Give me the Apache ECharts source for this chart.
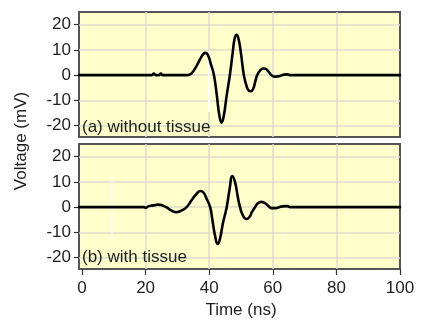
<!DOCTYPE html>
<html>
<head>
<meta charset="utf-8">
<script src="https://cdn.jsdelivr.net/npm/echarts@6/dist/echarts.min.js"></script>
<style>
html,body{margin:0;padding:0;background:#fff;}
#c{width:422px;height:327px;}
</style>
</head>
<body>
<div id="c"></div>
<script>
// Time (ns) and voltage (mV) for panel (a) without tissue
var timeA = [-0.9, 20, 22, 22.6, 23.2, 24.2, 24.8, 25.4, 33, 34, 35.5, 37, 38.2, 38.9, 39.6, 40.5, 41.5, 42.4, 43.2, 43.9, 44.6, 45.5, 46.5, 47.4, 48.0, 48.6, 49.2, 50.0, 50.9, 51.8, 52.5, 53.1, 53.8, 54.5, 55.1, 56, 57, 57.7, 58.6, 59.6, 60.5, 61.5, 62.5, 63.5, 64.5, 65.5, 100];
var voltA = [0, 0, 0, 0.6, 0, 0, 0.6, 0, 0, 0.3, 2.5, 6, 8.4, 8.8, 8, 4.5, 0, -8, -16, -18.8, -16, -8, 0, 9, 14.5, 16, 14.5, 8.5, 0, -4.5, -6.2, -6.4, -5.5, -2.5, 0, 1.8, 2.6, 2.5, 1.5, 0, -0.6, -0.5, -0.2, 0.2, 0.3, 0, 0];
// Time (ns) and voltage (mV) for panel (b) with tissue
var timeB = [-0.9, 19.5, 20, 21, 22, 23, 24, 25, 26.5, 28, 29.5, 31, 32.9, 34.5, 36, 37.2, 38.2, 39.3, 40.3, 41, 41.8, 42.7, 43.4, 44.3, 45.5, 46.4, 47.3, 48.2, 49.0, 49.7, 50.6, 51.7, 52.6, 53.5, 54.4, 55.4, 56.4, 57.5, 58.6, 59.6, 61, 62, 63, 64.5, 65.5, 100];
var voltB = [0, 0, -0.3, 0.4, 0.6, 0.8, 1.0, 0.8, 0, -1.3, -2.0, -1.5, 0, 2.8, 5.2, 6.4, 5.8, 3, 0, -5, -11, -14.6, -12.5, -6.5, 0, 7, 12.3, 9.5, 4, 0, -3.3, -4.7, -4, -1.8, 0, 1.6, 2.1, 1.6, 0.5, -0.4, -0.4, 0, 0.3, 0.4, 0, 0];
// Axis ticks
var xTicks = [0, 20, 40, 60, 80, 100];
var xGrid = [20, 40, 60, 80];
var yTicks = [-20, -10, 0, 10, 20];

function pairs(t, v) { return t.map(function (x, i) { return [x, v[i]]; }); }

var FONT = '"Liberation Sans", Arial, sans-serif';
var TXT = '#1e1e1e';

function gridSeries(idx, artifact) {
  var data = [];
  xGrid.forEach(function (x) { data.push({ xAxis: x }); });
  yTicks.forEach(function (y) { data.push({ yAxis: y }); });
  var ml = {
    silent: true, symbol: 'none', label: { show: false },
    lineStyle: { color: '#dcdcc8', width: 1.5, type: 'solid' },
    emphasis: { disabled: true },
    animation: false,
    data: data
  };
  if (artifact) {
    ml.data.push([{ coord: artifact[0], lineStyle: { color: artifact[2], width: 2 } }, { coord: artifact[1] }]);
  }
  return {
    type: 'line', xAxisIndex: idx, yAxisIndex: idx, data: [], z: 1,
    markLine: ml
  };
}

function waveSeries(idx, d) {
  return {
    type: 'line', xAxisIndex: idx, yAxisIndex: idx, data: d, z: 5,
    showSymbol: false, smooth: 0.5,
    lineStyle: { color: '#000', width: 2.6, join: 'round', cap: 'round' }, animation: false
  };
}

function yAxis(idx) {
  return {
    type: 'value', gridIndex: idx, min: -24.5, max: 25,
    axisLine: { show: false, onZero: false },
    axisTick: { show: true, customValues: yTicks, length: 5, lineStyle: { color: '#333', width: 1.2 } },
    axisLabel: { customValues: yTicks, margin: 8, fontSize: 17, color: TXT, fontFamily: FONT },
    splitLine: { show: false }
  };
}

var option = {
  backgroundColor: '#fff',
  animation: false,
  grid: [
    { left: 79, top: 12, width: 321, height: 125, show: true, backgroundColor: '#ffffcc', borderColor: '#555', borderWidth: 2 },
    { left: 79, top: 144, width: 321, height: 125, show: true, backgroundColor: '#ffffcc', borderColor: '#555', borderWidth: 2 }
  ],
  xAxis: [
    { type: 'value', gridIndex: 0, min: -0.94, max: 100,
      axisLine: { show: false, onZero: false }, axisTick: { show: false }, axisLabel: { show: false }, splitLine: { show: false } },
    { type: 'value', gridIndex: 1, min: -0.94, max: 100, position: 'bottom',
      axisLine: { show: false, onZero: false },
      axisTick: { show: true, customValues: xTicks, length: 6, lineStyle: { color: '#333', width: 1.2 } },
      axisLabel: { customValues: xTicks, margin: 11, fontSize: 17, color: TXT, fontFamily: FONT },
      splitLine: { show: false } }
  ],
  yAxis: [yAxis(0), yAxis(1)],
  series: [
    gridSeries(0, [[40, -14.5], [40, 9.6], '#ffffff']),
    gridSeries(1, [[9.3, -13.5], [9.3, 12], 'rgba(255,255,255,0.7)']),
    waveSeries(0, pairs(timeA, voltA)),
    waveSeries(1, pairs(timeB, voltB))
  ],
  graphic: [
    { type: 'text', x: 82, y: 127, z: 10, style: { text: '(a) without tissue', font: '17px ' + FONT, fill: TXT, verticalAlign: 'middle' } },
    { type: 'text', x: 82, y: 257, z: 10, style: { text: '(b) with tissue', font: '17px ' + FONT, fill: TXT, verticalAlign: 'middle' } },
    { type: 'text', x: 241, y: 310, style: { text: 'Time (ns)', font: '17px ' + FONT, fill: TXT, align: 'center', verticalAlign: 'middle' } },
    { type: 'text', x: 21, y: 141, rotation: Math.PI / 2, style: { text: 'Voltage (mV)', font: '17px ' + FONT, fill: TXT, align: 'center', verticalAlign: 'middle' } }
  ]
};

var chart = echarts.init(document.getElementById('c'), null, { renderer: 'canvas' });
chart.setOption(option);
</script>
</body>
</html>
